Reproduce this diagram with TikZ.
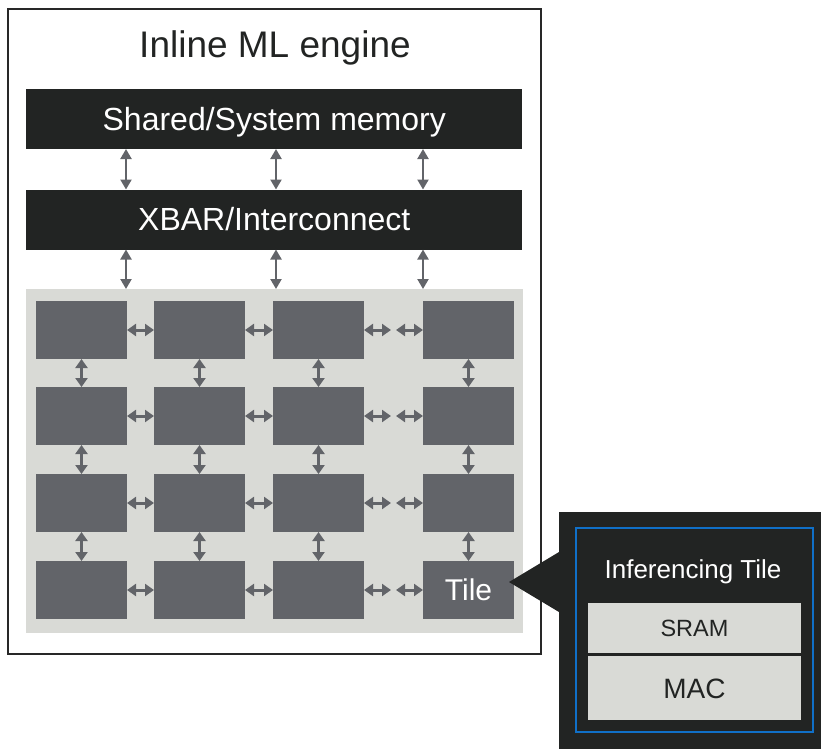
\documentclass[tikz,border=0pt]{standalone}
\usepackage{fontspec}
\setmainfont{Liberation Sans}
\usetikzlibrary{arrows.meta}
\definecolor{barblack}{RGB}{34,36,35}
\definecolor{tilegray}{RGB}{98,100,105}
\definecolor{areagray}{RGB}{217,218,214}
\definecolor{frameline}{RGB}{40,40,40}
\definecolor{callblue}{RGB}{16,112,200}
\begin{document}
\begin{tikzpicture}[x=1pt,y=-1pt,
  box/.style={rectangle, inner sep=0pt, outer sep=0pt},
  bar/.style={box, fill=barblack, minimum width=496pt, minimum height=60pt,
    text=white, font=\fontsize{32}{38}\selectfont, text height=22.9pt, text depth=0pt},
  tilebox/.style={box, fill=tilegray, minimum width=91pt, minimum height=58pt},
  harr/.style={draw=tilegray, line width=3pt,
    {Triangle[length=9pt,width=12pt]}-{Triangle[length=9pt,width=12pt]}},
  barr/.style={draw=tilegray, line width=2.2pt,
    {Triangle[length=10pt,width=11pt]}-{Triangle[length=10pt,width=11pt]}},
  lightbox/.style={box, fill=areagray, minimum width=213pt, text=barblack}
]
\useasboundingbox (0,0) rectangle (821,749);

% outer engine frame
\node[box, draw=frameline, line width=2.2pt, minimum width=533pt, minimum height=645pt] (engine) at (274.5,331.5) {};
\node[box, font=\fontsize{37}{44}\selectfont, text height=26.5pt, text depth=0pt, text=barblack] (title) at (275,44.2) {Inline ML engine};

% memory and interconnect bars
\node[bar] (mem) at (274.25,119) {Shared/System memory};
\node[bar] (xbar) at (274.25,219.5) {XBAR/Interconnect};

% tile area
\node[box, fill=areagray, minimum width=497pt, minimum height=344pt, anchor=north west] (grid) at (26,289) {};

\foreach \xx in {126,276,423} {
  \draw[barr] (mem.south -| \xx,0) -- (xbar.north -| \xx,0);
  \draw[barr] (xbar.south -| \xx,0) -- (grid.north -| \xx,0);
}

% tiles
\foreach \r/\yy in {1/330,2/416,3/503,4/590} {
  \foreach \c/\xx in {1/81.5,2/199.5,3/318.5,4/468.5} {
    \node[tilebox] (t\r\c) at (\xx,\yy) {};
  }
}
\node[box, text=white, font=\fontsize{30}{36}\selectfont, text height=21.5pt, text depth=0pt] (tilelabel) at (t44.center) {Tile};

% tile connections
\foreach \r in {1,2,3,4} {
  \draw[harr] (t\r1.east) -- (t\r2.west);
  \draw[harr] (t\r2.east) -- (t\r3.west);
  \path (t\r3.east) ++(27,0) coordinate (ma\r);
  \path (t\r4.west) ++(-27,0) coordinate (mb\r);
  \draw[harr] (t\r3.east) -- (ma\r);
  \draw[harr] (mb\r) -- (t\r4.west);
}
\foreach \r/\n in {1/2,2/3,3/4} {
  \foreach \c in {1,2,3,4} {
    \draw[harr] (t\r\c.south) -- (t\n\c.north);
  }
}

% callout
\node[box, fill=barblack, minimum width=262pt, minimum height=237pt, anchor=north west] (callout) at (559,512) {};
\path (t44.east) ++(-5,-8) coordinate (tip);
\fill[barblack] (tip) -- (559,552) -- (559,612) -- cycle;
\node[box, draw=callblue, line width=2pt, minimum width=237pt, minimum height=204pt] (itile) at (694.5,630) {};
\node[box, text=white, font=\fontsize{26}{31}\selectfont, text height=18.6pt, text depth=0pt] (ititle) at (693,569.2) {Inferencing Tile};
\node[lightbox, minimum height=50pt, font=\fontsize{23.5}{28}\selectfont, text height=16.8pt, text depth=0pt] (sram) at (694.5,628) {SRAM};
\node[lightbox, minimum height=64pt, font=\fontsize{28}{34}\selectfont, text height=20pt, text depth=0pt] (mac) at (694.5,688) {MAC};
\end{tikzpicture}
\end{document}
